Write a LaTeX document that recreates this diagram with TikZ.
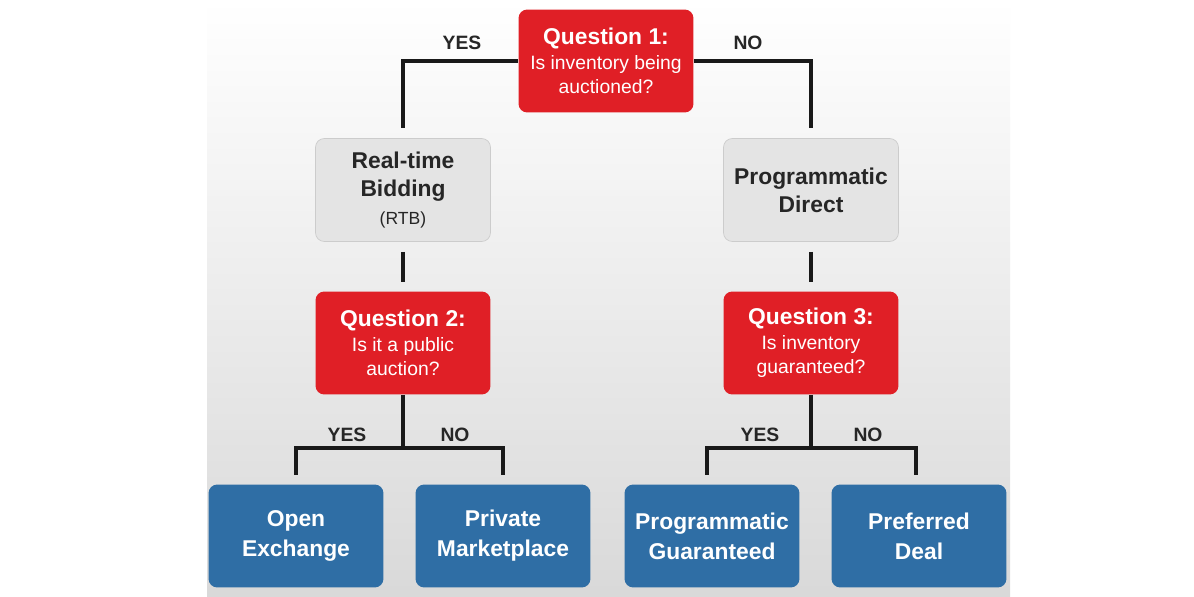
\documentclass[tikz,border=0pt]{standalone}
\usepackage{fontspec}
\setmainfont{Liberation Sans}
\definecolor{qred}{HTML}{E01F26}
\definecolor{bblue}{HTML}{2F6EA5}
\definecolor{gbox}{HTML}{E4E4E4}
\begin{document}
\begin{tikzpicture}[x=0.02cm,y=-0.02cm,
 box/.style={rounded corners=5pt,minimum width=3.5cm,minimum height=2.06cm,align=center,inner sep=2pt},
 red/.style={box,fill=qred,text=white,font=\fontsize{11}{14}\selectfont},
 grey/.style={box,fill=gbox,draw=gray!40,text=black!85,font=\fontsize{13}{16}\selectfont\bfseries},
 blue/.style={box,fill=bblue,text=white,font=\fontsize{13}{17}\selectfont\bfseries},
 con/.style={line width=2.8pt,black!90},
 lab/.style={font=\fontsize{11}{13}\selectfont\bfseries,text=black!85}]
\useasboundingbox (0,0) rectangle (1194,597);
\fill[white] (0,0) rectangle (1194,597);
\shade[top color=white,bottom color=gray!30] (207,0) rectangle (1010,597);
\node[red] (q1) at (606,61) {{\bfseries\fontsize{13}{16}\selectfont Question 1:}\\Is inventory being\\auctioned?};
\node[grey] (rtb) at (403,190) {Real-time\\Bidding\\{\mdseries\fontsize{10}{13}\selectfont (RTB)}};
\node[grey] (pd) at (811,190) {Programmatic\\Direct};
\node[red] (q2) at (403,343) {{\bfseries\fontsize{13}{16}\selectfont Question 2:}\\Is it a public\\auction?};
\node[red] (q3) at (811,343) {{\bfseries\fontsize{13}{16}\selectfont Question 3:}\\Is inventory\\guaranteed?};
\node[blue] (oe) at (296,536) {Open\\Exchange};
\node[blue] (pm) at (503,536) {Private\\Marketplace};
\node[blue] (pg) at (712,536) {Programmatic\\Guaranteed};
\node[blue] (pdl) at (919,536) {Preferred\\Deal};
\coordinate (e1) at (403,128); \coordinate (e2) at (811,128);
\coordinate (s2a) at (403,252); \coordinate (s2b) at (403,282);
\coordinate (s3a) at (811,252); \coordinate (s3b) at (811,282);
\coordinate (b2) at (403,448); \coordinate (b3) at (811,448);
\coordinate (oa) at (296,475); \coordinate (pa) at (503,475);
\coordinate (ga) at (707,475); \coordinate (da) at (916,475);
\draw[con] (q1.west) -| (e1);
\draw[con] (q1.east) -| (e2);
\draw[con] (s2a) -- (s2b);
\draw[con] (s3a) -- (s3b);
\draw[con] (q2.south) -- (b2);
\draw[con] (q3.south) -- (b3);
\draw[con] (oa) |- (b2) -| (pa);
\draw[con] (ga) |- (b3) -| (da);
\node[lab] (y1) at (462,43) {YES};
\node[lab] (n1) at (748,43) {NO};
\node[lab] (y2) at (347,435) {YES};
\node[lab] (n2) at (455,435) {NO};
\node[lab] (y3) at (760,435) {YES};
\node[lab] (n3) at (868,435) {NO};
\end{tikzpicture}
\end{document}
